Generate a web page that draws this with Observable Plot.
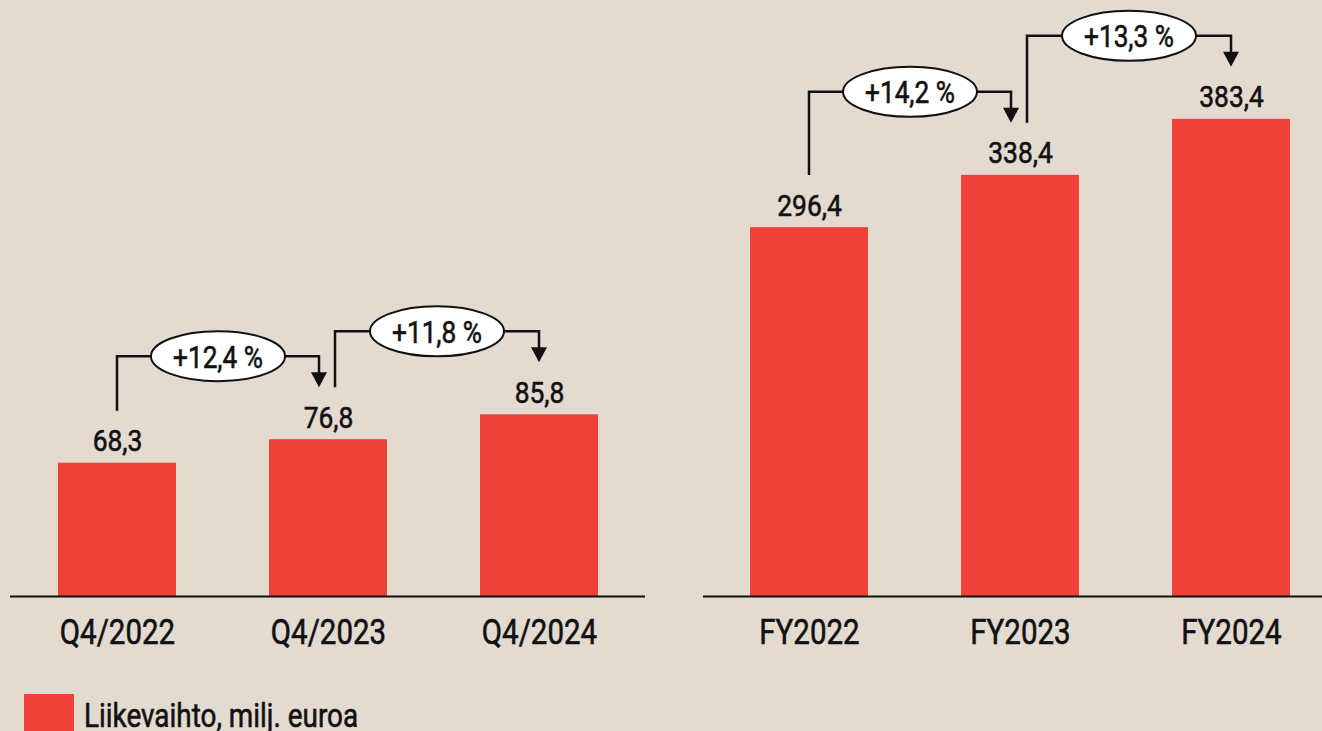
<!DOCTYPE html>
<html>
<head>
<meta charset="utf-8">
<script src="https://cdn.jsdelivr.net/npm/d3@7"></script>
<script src="https://cdn.jsdelivr.net/npm/@observablehq/plot@0.6"></script>
<style>
  html, body { margin: 0; padding: 0; }
  body {
    width: 1322px; height: 731px; overflow: hidden; position: relative;
    background: #e3dad0;
    font-family: Roboto, "DejaVu Sans Condensed", sans-serif;
  }
  #left { position: absolute; left: 0; top: 0; }
  #right { position: absolute; left: 690px; top: 0; }
  #legend { position: absolute; left: 24px; top: 694px; }
  #legend .sw { position: absolute; left: 0; top: 0; width: 50px; height: 50px; background: #ef4137; }
  #legend .lb { position: absolute; left: 60px; top: 4px; font-size: 34px; line-height: 1; font-weight: 400;
    -webkit-text-stroke: 0.6px #111;
    color: #111; white-space: nowrap; transform: scaleX(0.82); transform-origin: 0 0; }
</style>
</head>
<body>
<div id="left"></div>
<div id="right"></div>
<div id="legend"><div class="sw"></div><div class="lb" id="legendText"></div></div>
<script>
// ---- data ----
const quarterCategories = ["Q4/2022", "Q4/2023", "Q4/2024"];
const quarterValues = [68.3, 76.8, 85.8];
const quarterChanges = ["+12,4 %", "+11,8 %"];

const yearCategories = ["FY2022", "FY2023", "FY2024"];
const yearValues = [296.4, 338.4, 383.4];
const yearChanges = ["+14,2 %", "+13,3 %"];

const legendLabel = "Liikevaihto, milj. euroa";

// ---- styling ----
const RED = "#ef4137";
const INK = "#111111";
const FONT = 'Roboto, "DejaVu Sans Condensed", sans-serif';
const NARROW = 0.82;   // horizontal condensing of lettering
const fmt = v => v.toFixed(1).replace(".", ",");

document.getElementById("legendText").textContent = legendLabel;

function condense(selection, k) {
  selection.each(function () {
    const t = this.getAttribute("transform") || "";
    this.setAttribute("transform", `${t} scale(${k},1)`.trim());
  });
}

function panel({cats, values, changes, width, marginLeft, marginRight, xRange, yDomain}) {
  const data = cats.map((c, i) => ({cat: c, value: values[i]}));
  const plot = Plot.plot({
    width, height: 680,
    marginTop: 0, marginBottom: 84, marginLeft, marginRight,
    style: {background: "transparent", fontFamily: FONT, overflow: "visible", color: INK},
    x: {domain: cats, range: xRange, paddingInner: 0.443, paddingOuter: 0.222, label: null},
    y: {domain: yDomain, clamp: true, axis: null},
    marks: [
      Plot.barY(data, {x: "cat", y: "value", fill: RED}),
      Plot.ruleY([yDomain[0]], {stroke: INK, strokeWidth: 2}),
      Plot.text(data, {x: "cat", y: "value", text: d => fmt(d.value), dy: -12,
        lineAnchor: "bottom", fontSize: 30, fill: INK, stroke: INK, strokeWidth: 0.6,
        className: "vlabel"}),
      Plot.axisX({tickSize: 0, tickPadding: 22, fontSize: 36, fill: INK, label: null})
    ]
  });
  const svg = d3.select(plot);
  condense(svg.selectAll(".vlabel text"), 0.88);
  const ticks = svg.selectAll("[aria-label='x-axis tick label']");
  ticks.attr("stroke", INK).attr("stroke-width", 0.6).attr("fill", INK);
  condense(ticks.selectAll("text"), NARROW);

  // change annotations, positioned through Plot's own scales
  const xs = plot.scale("x"), ys = plot.scale("y");
  const cx = c => xs.apply(c) + xs.bandwidth / 2;
  const n = cats.length;
  const g = svg.append("g").attr("class", "changes");
  changes.forEach((label, i) => {
    const j = i + 1;
    const sx = cx(cats[i]) + (i > 0 ? 7 : 0);
    const ex = cx(cats[j]) - (j < n - 1 ? 9 : 0);
    const sy = ys.apply(values[i]) - 52;
    const tip = ys.apply(values[j]) - 52;
    const hy = tip - 31;
    g.append("path")
      .attr("d", `M${sx},${sy}V${hy}H${ex}V${tip - 12}`)
      .attr("fill", "none").attr("stroke", INK).attr("stroke-width", 2.5);
    g.append("path")
      .attr("d", `M${ex - 8},${tip - 15}L${ex + 8},${tip - 15}L${ex},${tip}Z`)
      .attr("fill", INK);
    const mx = (sx + ex) / 2;
    g.append("ellipse")
      .attr("cx", mx).attr("cy", hy).attr("rx", 67).attr("ry", 25)
      .attr("fill", "#ffffff").attr("stroke", INK).attr("stroke-width", 2);
    g.append("text")
      .attr("transform", `translate(${mx},${hy + 11.5}) scale(${NARROW},1)`)
      .attr("text-anchor", "middle")
      .attr("font-size", 32).attr("fill", INK)
      .attr("stroke", INK).attr("stroke-width", 0.6)
      .attr("font-family", FONT)
      .text(label);
  });
  return plot;
}

document.getElementById("left").append(panel({
  cats: quarterCategories, values: quarterValues, changes: quarterChanges,
  width: 660, marginLeft: 10, marginRight: 15, xRange: [10, 645],
  yDomain: [20.1, 235.6]
}));

document.getElementById("right").append(panel({
  cats: yearCategories, values: yearValues, changes: yearChanges,
  width: 632, marginLeft: 13, marginRight: 0, xRange: [13, 647],
  yDomain: [0, 478.9]
}));
</script>
</body>
</html>
